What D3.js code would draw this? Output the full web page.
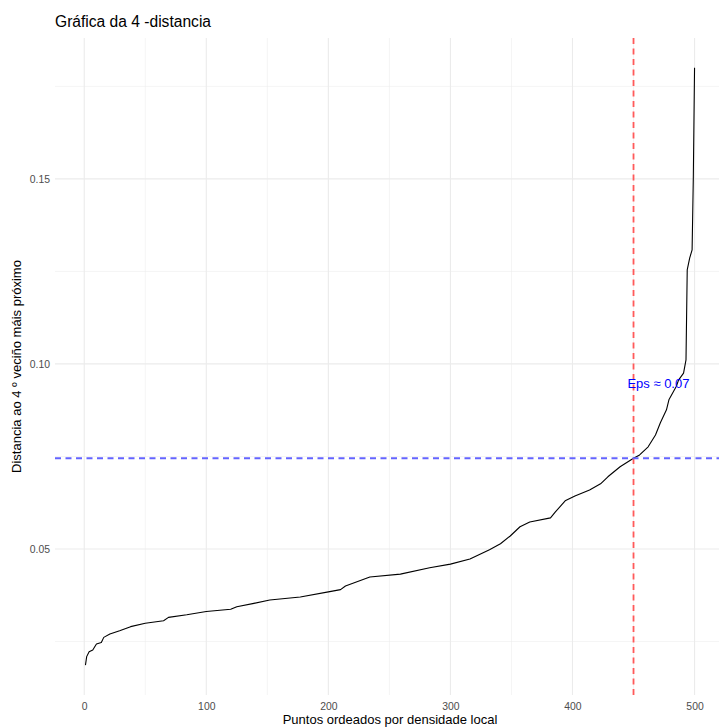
<!DOCTYPE html>
<html><head><meta charset="utf-8">
<script src="https://cdn.jsdelivr.net/npm/d3@7"></script>
<style>
html,body{margin:0;padding:0;background:#fff;overflow:hidden;}
svg{display:block;font-family:"Liberation Sans",Arial,Helvetica,sans-serif;}
</style></head>
<body>
<svg id="chart" width="719" height="727"></svg>
<script>
const title = "Gráfica da 4 -distancia";
const xTitle = "Puntos ordeados por densidade local";
const yTitle = "Distancia ao 4 º veciño máis próximo";
const pointIndex = [1,2,4,7,10,14,16,21,29,38,50,65,69,84,100,120,125,139,152,177,200,210,214,234,259,283,300,316,332,341,349,357,365,382,386,394,402,414,423,429,439,450,455,462,468,472,477,479,485,487,491,493,494,496,498,499,500];
const knnDist = [0.0186,0.0209,0.0222,0.0227,0.0243,0.0247,0.0261,0.0270,0.0279,0.0290,0.0299,0.0306,0.0315,0.0322,0.0331,0.0337,0.0344,0.0353,0.0362,0.0370,0.0384,0.0390,0.0400,0.0424,0.0432,0.0449,0.0459,0.0473,0.0498,0.0514,0.0535,0.0560,0.0573,0.0584,0.0600,0.0630,0.0643,0.0659,0.0676,0.0695,0.0722,0.0745,0.0754,0.0776,0.0808,0.0841,0.0876,0.0903,0.0939,0.0957,0.0975,0.1011,0.1254,0.1286,0.1308,0.1505,0.1800];
const xTicks = [0,100,200,300,400,500];
const xMinor = [50,150,250,350,450];
const yTicks = [0.05,0.10,0.15];
const yMinor = [0.025,0.075,0.125,0.175];
const kneeIndex = 450;
const eps = 0.0745;
const epsLabel = "Eps ≈ 0.07";
const epsLabelPos = [470.4, 0.0947];

const svg = d3.select("#chart");
const L = 55, R = 725, T = 38, B = 695;
const nMin = d3.min(pointIndex), nMax = d3.max(pointIndex);
const dMin = d3.min(knnDist), dMax = d3.max(knnDist);
const xr = nMax - nMin, yr = dMax - dMin;
const x = d3.scaleLinear().domain([nMin - 0.05*xr, nMax + 0.05*xr]).range([L, R]);
const y = d3.scaleLinear().domain([dMin - 0.05*yr, dMax + 0.05*yr]).range([B, T]);

const g = svg.append("g");
// minor grid
g.selectAll(".xm").data(xMinor).join("line")
  .attr("x1", d=>x(d)).attr("x2", d=>x(d)).attr("y1", T).attr("y2", B)
  .attr("stroke", "#EBEBEB").attr("stroke-width", 0.55);
g.selectAll(".ym").data(yMinor).join("line")
  .attr("y1", d=>y(d)).attr("y2", d=>y(d)).attr("x1", L).attr("x2", R)
  .attr("stroke", "#EBEBEB").attr("stroke-width", 0.55);
// major grid
g.selectAll(".xg").data(xTicks).join("line")
  .attr("x1", d=>x(d)).attr("x2", d=>x(d)).attr("y1", T).attr("y2", B)
  .attr("stroke", "#EBEBEB").attr("stroke-width", 1.1);
g.selectAll(".yg").data(yTicks).join("line")
  .attr("y1", d=>y(d)).attr("y2", d=>y(d)).attr("x1", L).attr("x2", R)
  .attr("stroke", "#EBEBEB").attr("stroke-width", 1.1);

// axes (text only)
const xAxis = d3.axisBottom(x).tickValues(xTicks).tickSize(0).tickPadding(0).tickFormat(d3.format("d"));
const xa = svg.append("g").attr("transform", `translate(0,${B})`).call(xAxis);
xa.select(".domain").remove();
xa.selectAll("text").attr("fill", "#4D4D4D").attr("font-size", "10.4px")
  .attr("font-family", "Liberation Sans, Arial, sans-serif").attr("dy", null).attr("y", 15);
const yAxis = d3.axisLeft(y).tickValues(yTicks).tickSize(0).tickPadding(0).tickFormat(d3.format(".2f"));
const ya = svg.append("g").attr("transform", `translate(${L-5},0)`).call(yAxis);
ya.select(".domain").remove();
ya.selectAll("text").attr("fill", "#4D4D4D").attr("font-size", "10.4px")
  .attr("font-family", "Liberation Sans, Arial, sans-serif").attr("dy", "0.35em").attr("x", 0);

// line
svg.append("path").datum(pointIndex.map((d,i)=>[d, knnDist[i]]))
  .attr("fill", "none").attr("stroke", "#000").attr("stroke-width", 1.1)
  .attr("stroke-linejoin", "round")
  .attr("d", d3.line().x(d=>x(d[0])).y(d=>y(d[1])));

// reference lines
svg.append("line").attr("x1", x(kneeIndex)).attr("x2", x(kneeIndex)).attr("y1", T).attr("y2", B)
  .attr("stroke", "#FF5A5A").attr("stroke-width", 1.8).attr("stroke-dasharray", "6,4.5");
svg.append("line").attr("x1", L).attr("x2", R).attr("y1", y(eps)).attr("y2", y(eps))
  .attr("stroke", "#6464FF").attr("stroke-width", 1.8).attr("stroke-dasharray", "6,4.5");

svg.append("text").attr("x", x(epsLabelPos[0])).attr("y", y(epsLabelPos[1])).attr("dy", "0.35em")
  .attr("text-anchor", "middle").attr("fill", "#0000FF").attr("font-size", "13px").text(epsLabel);

// titles
svg.append("text").attr("x", L).attr("y", 27).attr("font-size", "15.6px").attr("fill", "#000").text(title);
svg.append("text").attr("x", (L+R)/2).attr("y", 724).attr("text-anchor", "middle")
  .attr("font-size", "13px").attr("fill", "#000").text(xTitle);
svg.append("text").attr("transform", `translate(21,${(T+B)/2}) rotate(-90)`).attr("text-anchor", "middle")
  .attr("font-size", "13px").attr("fill", "#000").text(yTitle);
</script>
</body></html>
